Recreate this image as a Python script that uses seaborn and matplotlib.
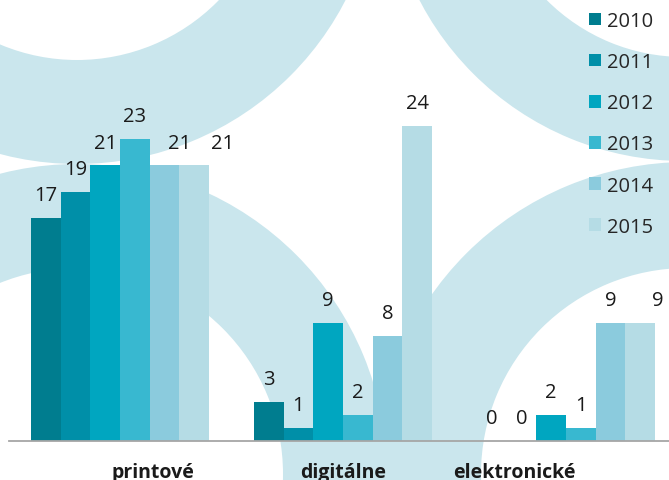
import pandas as pd
import matplotlib
matplotlib.use("Agg")
import matplotlib.pyplot as plt
from matplotlib.patches import Wedge
from matplotlib.transforms import ScaledTranslation
import seaborn as sns

# chart data
categories = ["printové", "digitálne", "elektronické"]
years = ["2010", "2011", "2012", "2013", "2014", "2015"]
v2010 = [17, 3, 0]
v2011 = [19, 1, 0]
v2012 = [21, 9, 2]
v2013 = [23, 2, 1]
v2014 = [21, 8, 9]
v2015 = [21, 24, 9]

colors = ["#007D8F", "#008FA8", "#00A6C0", "#38B8D0", "#8BCBDD", "#B5DCE5"]
ring_color = "#CAE6ED"

rows = []
for year, vals in zip(years, [v2010, v2011, v2012, v2013, v2014, v2015]):
    for cat, v in zip(categories, vals):
        rows.append({"kategoria": cat, "rok": year, "pocet": v})
df = pd.DataFrame(rows)

sns.set_style("white")
plt.rcParams["font.family"] = ["Open Sans", "DejaVu Sans"]

W, H = 669, 481
fig = plt.figure(figsize=(W / 100, H / 100), dpi=100)

# decorative rings in the background (pixel coordinates)
bg = fig.add_axes([0, 0, 1, 1], zorder=0)
bg.set_xlim(0, W)
bg.set_ylim(H, 0)
bg.axis("off")
for (cx, cy), r_in, r_out in [((77, -137), 198, 302), ((684, -136), 194, 298),
                              ((687, 475), 206, 312), ((77, 475), 206, 310)]:
    bg.add_patch(Wedge((cx, cy), r_out, 0, 360, width=r_out - r_in,
                       facecolor=ring_color, edgecolor="none"))

ax = fig.add_axes([0, 39 / H, 1, 442 / H], zorder=1)
ax.patch.set_alpha(0)
sns.barplot(data=df, x="kategoria", y="pocet", hue="rok", palette=colors,
            saturation=1, width=0.8, ax=ax, edgecolor="none", linewidth=0)

ax.set_ylim(0, 442 / 13.12)
ax.set_xlim(-120 / 223, (W - 120) / 223)

# value labels (a few nudged sideways like in the original)
nudges = {(0, 4): 15, (0, 5): 28, (2, 5): 17}
for j, cont in enumerate(ax.containers):
    for i, bar in enumerate(cont):
        h = bar.get_height()
        x = bar.get_x() + bar.get_width() / 2
        ax.annotate(f"{h:.0f}", (x, h), xytext=(nudges.get((i, j), 0) * 0.72, 16.5),
                    textcoords="offset points", ha="center", va="center",
                    fontsize=14.5, color="#1a1a1a")

for s in ["top", "right", "left"]:
    ax.spines[s].set_visible(False)
ax.spines["bottom"].set_color("#A6A6A6")
ax.spines["bottom"].set_linewidth(1.3)
ax.spines["bottom"].set_bounds(-111 / 223, (W - 120) / 223)
ax.set_yticks([])
ax.set_xlabel("")
ax.set_ylabel("")
ax.tick_params(axis="x", length=0, pad=15, labelsize=14)
label_shift = [33, 0, -52]
for t, dx in zip(ax.get_xticklabels(), label_shift):
    t.set_fontweight("bold")
    t.set_color("#1a1a1a")
    t.set_transform(t.get_transform() + ScaledTranslation(dx / 100, 0, fig.dpi_scale_trans))

handles, labels = ax.get_legend_handles_labels()
ax.legend_.remove()
fig.legend(handles, labels, loc="upper left", bbox_to_anchor=(585 / W, (H - 8) / H),
           frameon=False, fontsize=14.5, handlelength=0.6, handleheight=0.6,
           handletextpad=0.3, labelspacing=1.05, borderaxespad=0.0,
           borderpad=0.2)

fig.savefig("out.png", dpi=100)
